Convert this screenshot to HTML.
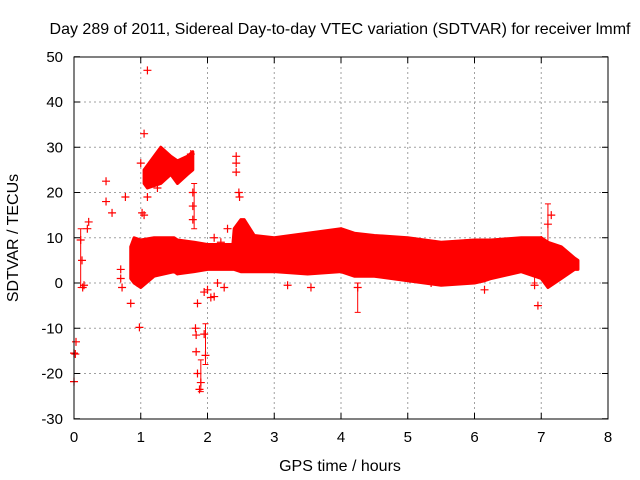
<!DOCTYPE html>
<html><head><meta charset="utf-8"><style>
body{margin:0;background:#fff;}
svg{display:block;font-family:"Liberation Sans",sans-serif;}
</style></head><body>
<svg id="chart" width="640" height="480" xmlns="http://www.w3.org/2000/svg">
<rect width="640" height="480" fill="#fff"/>
<text x="340" y="34" font-size="16" text-anchor="middle">Day 289 of 2011, Sidereal Day-to-day VTEC variation (SDTVAR) for receiver lmmf</text>
<text x="340" y="471" font-size="16" text-anchor="middle">GPS time / hours</text>
<text x="18" y="238" font-size="16" text-anchor="middle" transform="rotate(-90 18 238)">SDTVAR / TECUs</text>
<g id="grid"></g><g id="ticks"></g><g id="marks"></g>
<rect x="74" y="57" width="534" height="362" fill="none" stroke="#000" stroke-width="1"/>
</svg>
<script>
const xTicks=[0,1,2,3,4,5,6,7,8];
const yTicks=[-30,-20,-10,0,10,20,30,40,50];
// main band: time, lower, upper
const bandT=[0.85,0.9,1.0,1.2,1.5,1.55,1.8,2.0,2.3,2.38,2.4,2.5,2.55,2.7,3.0,3.5,4.0,4.2,4.5,5.0,5.5,6.0,6.15,6.25,6.7,7.0,7.1,7.3,7.5,7.55];
const bandLo=[1,0,-1,1.5,2.5,2,2.5,3,3,3,3,2.5,2.5,2.5,2.5,2,2.5,1.5,1.5,0.5,-0.5,0,0.5,1,2.5,1,-1,1,3,3];
const bandHi=[8,10,9.5,10,10,9.5,9,8.5,8.5,8.5,12,14,14,10.5,10,11,12,11,10.5,10,9,9.5,9.5,9.5,10,10,9,8,5.5,5];
// upper cluster band
const upT=[1.05,1.1,1.3,1.45,1.55,1.7,1.78];
const upLo=[22,21,22,24,22,24,25];
const upHi=[25,26,30,28,27,28,29];
// outlier points
const ptT=[0,0.02,0.03,0,0.1,0.12,0.13,0.15,0.2,0.22,0.48,0.48,0.57,0.77,0.7,0.7,0.72,0.85,0.98,0.95,1.0,1.02,1.05,1.1,1.1,1.05,1.25,1.85,1.82,1.83,1.83,1.85,1.88,1.95,1.97,1.9,1.95,2.0,2.05,2.1,2.15,2.25,1.78,1.78,1.78,2.43,2.43,2.43,2.48,2.47,2.2,2.1,2.3,3.2,3.55,4.25,5.35,6.15,6.9,6.9,6.95,7.1,7.15,7.0,1.2,1.3,1.4,1.6,1.75];
const ptV=[-15.5,-15.7,-13,-21.8,9.5,5,-1,-0.5,12,13.5,22.5,18,15.5,19,3,1,-1,-4.5,-9.8,0,26.5,15.5,33,47,19,15,21,-4.5,-10,-11.5,-15.2,-20,-23.5,-11.3,-16,-22,-2,-1.5,-3.2,-3,0,-1,20,17,14,28,26.5,24.5,19,20,9,10,12,-0.5,-1,-1,0,-1.5,5,-0.5,-5,13,15,9.5,24,27,25,26,28.5];
// error bars: time, low, high
const ebT=[0.1,4.25,7.1,1.97,6.9,1.9,1.8];
const ebLo=[-1,-6.5,7,-18,0,-24,12];
const ebHi=[12,0,17.5,-9,6,-17,22];

const X=t=>74+t*66.75, Y=v=>283-v*4.525;
const NS="http://www.w3.org/2000/svg";
function mk(tag,parent,attrs){const e=document.createElementNS(NS,tag);for(const k in attrs)e.setAttribute(k,attrs[k]);document.getElementById(parent).appendChild(e);return e;}
xTicks.forEach(t=>{
 if(t>0&&t<8){const g=mk('line','grid',{x1:X(t),x2:X(t),y1:57,y2:419,stroke:'#a0a0a0','stroke-dasharray':'2,3'});
 
 }
 const l=mk('text','ticks',{x:X(t),y:442,'font-size':15,'text-anchor':'middle'});l.textContent=t;
 
 
 mk('line','ticks',{x1:X(t),x2:X(t),y1:419,y2:413,stroke:'#000'});
 mk('line','ticks',{x1:X(t),x2:X(t),y1:57,y2:63,stroke:'#000'});
});
yTicks.forEach(v=>{
 if(v>-30&&v<50){const g=mk('line','grid',{x1:74,x2:608,y1:Y(v),y2:Y(v),stroke:'#a0a0a0','stroke-dasharray':'2,3'});
 
 }
 const l=mk('text','ticks',{x:63,y:Y(v)+5,'font-size':15,'text-anchor':'end'});l.textContent=v;
 
 
 mk('line','ticks',{x1:74,x2:80,y1:Y(v),y2:Y(v),stroke:'#000'});
 mk('line','ticks',{x1:602,x2:608,y1:Y(v),y2:Y(v),stroke:'#000'});
});
function band(T,L,H,name){
 let p=T.map((t,i)=>X(t)+','+Y(H[i]));
 for(let i=T.length-1;i>=0;i--)p.push(X(T[i])+','+Y(L[i]));
 const e=mk('polygon','marks',{points:p.join(' '),fill:'#ff0000',stroke:'#ff0000','stroke-width':3,'stroke-linejoin':'round'});
 
 
}
band(bandT,bandLo,bandHi,'main-data-band');
band(upT,upLo,upHi,'upper-data-cluster');
ebT.forEach((t,i)=>{
 const e=mk('path','marks',{d:`M${X(t)},${Y(ebLo[i])}V${Y(ebHi[i])}M${X(t)-3},${Y(ebLo[i])}h6M${X(t)-3},${Y(ebHi[i])}h6`,stroke:'#ff0000','stroke-width':1,fill:'none'});
 
 
});
ptT.forEach((t,i)=>{
 const x=X(t),y=Y(ptV[i]);
 const e=mk('path','marks',{d:`M${x-4},${y}h8M${x},${y-4}v8`,stroke:'#ff0000','stroke-width':1.2});
 
 
});
</script>
</body></html>
